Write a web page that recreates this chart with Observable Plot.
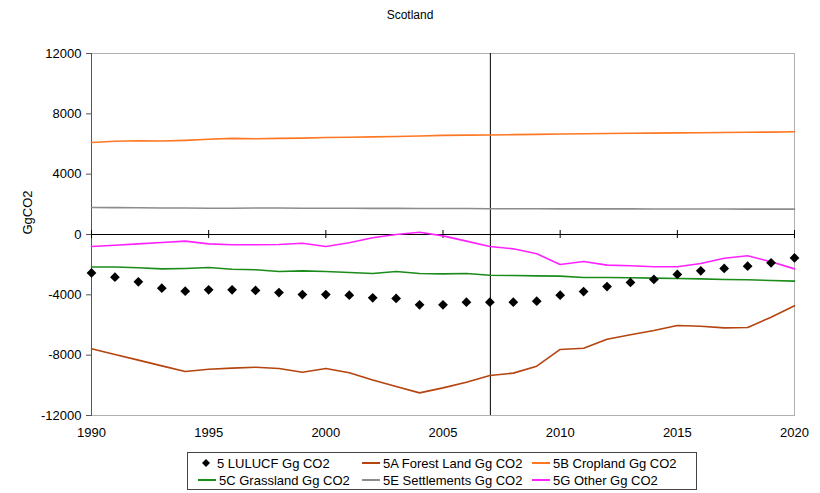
<!DOCTYPE html>
<html>
<head>
<meta charset="utf-8">
<script src="https://cdn.jsdelivr.net/npm/d3@7"></script>
<script src="https://cdn.jsdelivr.net/npm/@observablehq/plot@0.6"></script>
<style>
  body { margin: 0; background: #fff; font-family: "Liberation Sans", Arial, sans-serif; }
  #title { height: 28px; line-height: 30px; text-align: center; font-size: 12px; color: #000; width: 820px; }
  #legend { position: relative; margin-left: 187px; margin-top: 7px; width: 508px; height: 36px; border: 1px solid #444; font-size: 13px; color: #000; }
  .item { position: absolute; display: flex; align-items: center; white-space: nowrap; height: 16px; }
  .item svg { margin-right: 3px; }
</style>
</head>
<body>
<div id="title">Scotland</div>
<div id="chart"></div>
<div id="legend"></div>
<script>
const years = d3.range(1990, 2021);
const lulucf = [-2550,-2830,-3140,-3560,-3760,-3670,-3670,-3710,-3850,-3980,-3980,-4020,-4200,-4240,-4660,-4660,-4490,-4490,-4490,-4420,-4020,-3780,-3450,-3180,-2980,-2650,-2410,-2250,-2100,-1880,-1550];
const forest = [-7580,-7960,-8330,-8710,-9080,-8930,-8860,-8800,-8880,-9130,-8880,-9170,-9640,-10080,-10500,-10170,-9790,-9350,-9190,-8730,-7620,-7540,-6940,-6650,-6370,-6030,-6080,-6190,-6170,-5480,-4730];
const cropland = [6100,6180,6220,6200,6240,6310,6370,6350,6370,6390,6430,6450,6470,6500,6530,6570,6590,6600,6620,6640,6660,6680,6700,6710,6720,6740,6750,6760,6780,6790,6810];
const grassland = [-2150,-2150,-2200,-2280,-2250,-2190,-2300,-2340,-2450,-2410,-2450,-2520,-2590,-2450,-2590,-2610,-2590,-2700,-2720,-2740,-2760,-2850,-2850,-2870,-2890,-2920,-2940,-2980,-3000,-3050,-3090];
const settlements = [1790,1780,1770,1760,1760,1740,1740,1760,1760,1740,1740,1740,1730,1730,1720,1720,1720,1710,1710,1710,1700,1700,1700,1700,1690,1690,1690,1690,1680,1680,1680];
const other = [-800,-710,-620,-530,-440,-620,-680,-680,-660,-580,-800,-550,-220,0,150,-90,-440,-800,-950,-1280,-1990,-1790,-2030,-2070,-2140,-2140,-1920,-1570,-1410,-1810,-2280];
const markerYear = [2007];
const yTicks = [-12000,-8000,-4000,0,4000,8000,12000];
const xTicks = [1990,1995,2000,2005,2010,2015,2020];

const seriesNames = ["5A Forest Land Gg CO2","5B Cropland Gg CO2","5C Grassland Gg CO2","5E Settlements Gg CO2","5G Other Gg CO2"];
const seriesColors = ["#b5440f","#ff7722","#1b8c1b","#8c8c8c","#ff22ff"];
const seriesValues = [forest, cropland, grassland, settlements, other];

const lineData = [];
seriesNames.forEach((name, i) => years.forEach((yr, j) => lineData.push({series: name, year: yr, value: seriesValues[i][j]})));
const dotData = years.map((yr, j) => ({year: yr, value: lulucf[j]}));

const chart = Plot.plot({
  width: 820,
  height: 417,
  marginLeft: 91,
  marginRight: 26,
  marginTop: 25,
  marginBottom: 30,
  style: {fontFamily: "Liberation Sans, Arial, sans-serif", fontSize: "13px", color: "#000", background: "#fff"},
  x: {domain: [1990, 2020]},
  y: {domain: [-12000, 12000]},
  color: {domain: seriesNames, range: seriesColors},
  marks: [
    Plot.frame({stroke: "#b0b0b0"}),
    Plot.frame({anchor: "left", stroke: "#555"}),
    Plot.ruleY([0], {stroke: "#000", strokeWidth: 1}),
    Plot.ruleX(xTicks, {x: d => d, y1: 0, y2: 0, insetTop: -4, insetBottom: -4, stroke: "#000"}),
    Plot.ruleX(markerYear, {stroke: "#000", strokeWidth: 1, dx: 0.5}),
    Plot.axisY({ticks: yTicks, tickSize: 5, tickPadding: 5, tickFormat: d => String(d), label: null, stroke: "#555"}),
    Plot.axisX({ticks: xTicks, tickSize: 0, tickPadding: 12, tickFormat: d => String(d), label: null}),
    Plot.text(["GgCO2"], {frameAnchor: "left", dx: -64, rotate: -90, fontSize: 13}),
    Plot.line(lineData, {x: "year", y: "value", z: "series", stroke: "series", strokeWidth: 1.6}),
    Plot.dot(dotData, {x: "year", y: "value", symbol: "diamond2", r: 4.4, fill: "#000", stroke: "none"})
  ]
});
document.getElementById("chart").appendChild(chart);

// legend
const legend = document.getElementById("legend");
const entries = [{name: "5 LULUCF Gg CO2", type: "dot", color: "#000"}].concat(seriesNames.map((n, i) => ({name: n, type: "line", color: seriesColors[i]})));
const colX = [10, 174, 344];
const rowY = [2, 19];
entries.forEach((e, i) => {
  const div = document.createElement("div");
  div.className = "item";
  div.style.left = colX[i % 3] + "px";
  div.style.top = rowY[Math.floor(i / 3)] + "px";
  const sw = e.type === "dot"
    ? `<svg width="16" height="12"><path d="M8,2 L12,6 L8,10 L4,6 Z" fill="#000"/></svg>`
    : `<svg width="18" height="12"><line x1="0" x2="18" y1="6" y2="6" stroke="${e.color}" stroke-width="2"/></svg>`;
  div.innerHTML = sw + `<span>${e.name}</span>`;
  legend.appendChild(div);
});
</script>
</body>
</html>
